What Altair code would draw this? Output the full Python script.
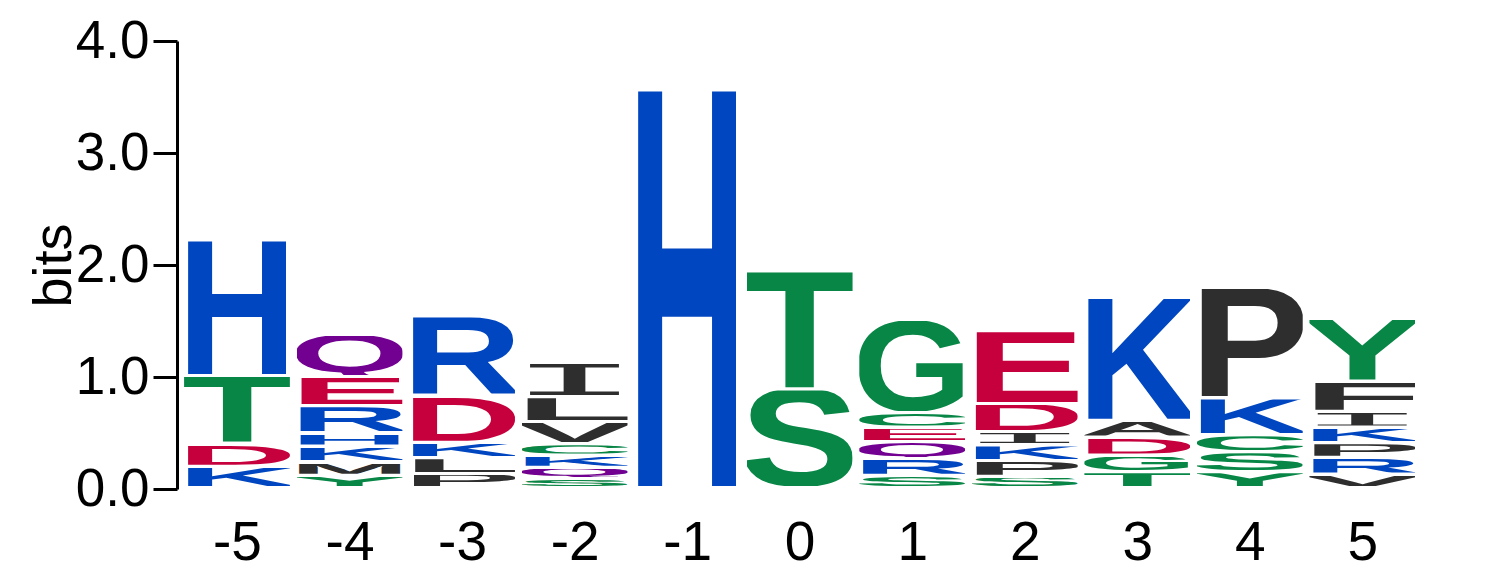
import base64

import pandas as pd
import altair as alt

# sequence logo: positions and the letter stacks, bottom to top, in bits
positions = [-5, -4, -3, -2, -1, 0, 1, 2, 3, 4, 5]
stack_letters = [
    ["K", "D", "T", "H"],
    ["Y", "M", "K", "H", "R", "E", "Q"],
    ["P", "L", "K", "D", "R"],
    ["S", "Q", "K", "C", "V", "L", "I"],
    ["H"],
    ["S", "T"],
    ["S", "R", "Q", "E", "C", "G"],
    ["S", "P", "K", "I", "D", "E"],
    ["T", "G", "D", "A", "K"],
    ["Y", "S", "C", "K", "P"],
    ["V", "R", "P", "K", "I", "F", "Y"],
]
stack_bits = [
    [0.19, 0.20, 0.61, 1.21],
    [0.11, 0.12, 0.14, 0.12, 0.24, 0.26, 0.38],
    [0.125, 0.14, 0.14, 0.42, 0.71],
    [0.08, 0.10, 0.11, 0.10, 0.20, 0.22, 0.31],
    [3.56],
    [0.88, 1.06],
    [0.11, 0.15, 0.15, 0.13, 0.13, 0.83],
    [0.10, 0.14, 0.14, 0.12, 0.25, 0.65],
    [0.14, 0.15, 0.16, 0.15, 1.10],
    [0.14, 0.18, 0.15, 0.33, 0.99],
    [0.12, 0.15, 0.13, 0.14, 0.14, 0.27, 0.56],
]

BLUE = "#0046c0"
GREEN = "#078646"
RED = "#c5003c"
PURPLE = "#720091"
BLACK = "#2e2e2e"
letter_colors = {
    "H": BLUE, "K": BLUE, "R": BLUE,
    "D": RED, "E": RED,
    "Q": PURPLE, "N": PURPLE,
    "T": GREEN, "S": GREEN, "G": GREEN, "C": GREEN, "Y": GREEN,
    "A": BLACK, "I": BLACK, "L": BLACK, "M": BLACK, "P": BLACK,
    "V": BLACK, "F": BLACK, "W": BLACK,
}


def glyph_url(letter):
    # one bold letter, stretched to whatever box the image mark gets
    font, weight = "Liberation Sans, Arial, sans-serif", "bold"
    cap, below, left, span = 69, 0, 6, 88
    if letter == "I":
        # serif-style I with full-width bars
        font, weight = "DejaVu Sans Mono, monospace", "normal"
        cap, left, span = 73, 10, 80
    if letter == "Q":
        below = 6  # keep the tail inside the box
    svg = (
        '<svg xmlns="http://www.w3.org/2000/svg" '
        f'viewBox="{left} -{cap} {span} {cap + below}" preserveAspectRatio="none">'
        f'<text x="0" y="0" font-family="{font}" '
        f'font-weight="{weight}" font-size="100" fill="{letter_colors[letter]}" '
        f'textLength="100" lengthAdjust="spacingAndGlyphs">{letter}</text></svg>'
    )
    return "data:image/svg+xml;base64," + base64.b64encode(svg.encode()).decode()


rows = []
for pos, lets, bits in zip(positions, stack_letters, stack_bits):
    base = 0.0
    for letter, b in zip(lets, bits):
        rows.append({
            "pos": pos, "letter": letter,
            "lo": base, "hi": base + b,
            "x0": pos - 0.47, "x1": pos + 0.47,
            "url": glyph_url(letter),
        })
        base += b
df = pd.DataFrame(rows)

chart = alt.Chart(df).mark_image(aspect=False, yOffset=-3).encode(
    x=alt.X(
        "x0:Q",
        scale=alt.Scale(domain=[-5.533, 5.53], nice=False, zero=False),
        axis=alt.Axis(
            title="", values=positions, domain=False, ticks=False,
            labelFontSize=55, labelPadding=27,
            labelExpr="datum.value < 0 ? '-' + (-datum.value) : '' + datum.value",
        ),
    ),
    x2="x1:Q",
    y=alt.Y(
        "lo:Q",
        scale=alt.Scale(domain=[0, 4], nice=False, zero=True),
        axis=alt.Axis(
            title="bits", values=[0, 1, 2, 3, 4], format=".1f",
            tickSize=24, tickWidth=3, domainWidth=3,
            domainColor="black", tickColor="black",
            labelFontSize=53, labelPadding=4,
            titleFontSize=54, titleFontWeight="normal",
            titleAngle=270, titleAlign="center", titleBaseline="middle",
            titleX=-123, titleY=224,
        ),
    ),
    y2="hi:Q",
    url="url:N",
).properties(
    width=1245,
    height=448,
    autosize=alt.AutoSizeParams(type="none"),
    padding={"left": 169, "top": 33, "right": 10, "bottom": 85},
).configure_view(
    stroke=None,
).configure_axis(
    grid=False,
    labelFont="Liberation Sans",
    titleFont="Liberation Sans",
    labelColor="black",
    titleColor="black",
)

chart.save("out.html", embed_options={"renderer": "svg", "actions": False})
